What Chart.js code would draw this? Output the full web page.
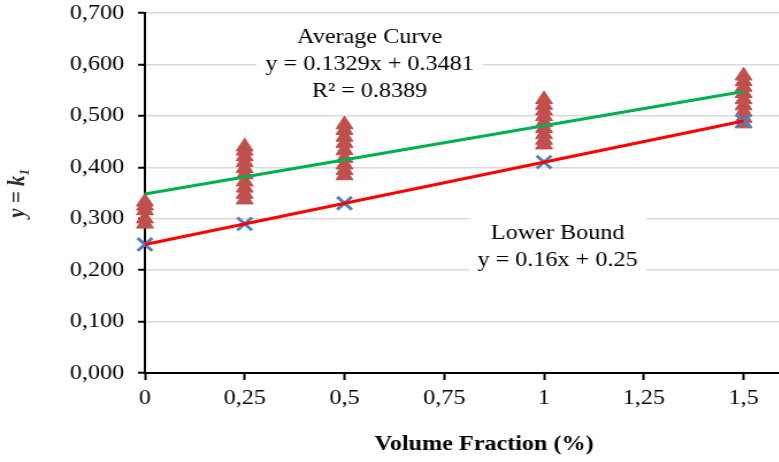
<!DOCTYPE html>
<html><head><meta charset="utf-8">
<script src="https://cdn.jsdelivr.net/npm/chart.js@4.4.1/dist/chart.umd.min.js"></script>
<style>
html,body{margin:0;padding:0;overflow:hidden;background:#fff;width:779px;height:462px;}
#c{display:block;transform:scaleX(1.15);transform-origin:0 0;}
</style></head><body>
<canvas id="c" width="728" height="462"></canvas>
<script>
// ---- data ----
const volumeFractions = [0, 0.25, 0.5, 1, 1.5];
const k1At0    = [0.333, 0.325, 0.316, 0.300, 0.290];
const k1At025  = [0.440, 0.432, 0.421, 0.410, 0.398, 0.386, 0.372, 0.360, 0.348, 0.337];
const k1At05   = [0.483, 0.472, 0.459, 0.447, 0.433, 0.418, 0.405, 0.394, 0.384];
const k1At1    = [0.532, 0.521, 0.510, 0.499, 0.487, 0.476, 0.464, 0.453, 0.444];
const k1At15   = [0.578, 0.567, 0.556, 0.544, 0.532, 0.520, 0.508, 0.496, 0.485];
const lowerBoundPoints = [0.25, 0.29, 0.33, 0.41, 0.49];
const trendX = [0, 1.5];
const averageCurveY = [0.3481, 0.5475];
const lowerBoundLineY = [0.25, 0.49];
const xTickValues = [0, 0.25, 0.5, 0.75, 1, 1.25, 1.5];
const yTickValues = [0, 0.1, 0.2, 0.3, 0.4, 0.5, 0.6, 0.7];
const averageLabel = ['Average Curve', 'y = 0.1329x + 0.3481', 'R\u00B2 = 0.8389'];
const lowerLabel = ['Lower Bound', 'y = 0.16x + 0.25'];
const xTitle = 'Volume Fraction (%)';
const yTitle = 'y = k\u2081';

const samples = [k1At0, k1At025, k1At05, k1At1, k1At15];
const trianglePts = [];
samples.forEach((arr, i) => arr.forEach(v => trianglePts.push({x: volumeFractions[i], y: v})));
const crossPts = volumeFractions.map((x, i) => ({x, y: lowerBoundPoints[i]}));
const avgPts = trendX.map((x, i) => ({x, y: averageCurveY[i]}));
const lowPts = trendX.map((x, i) => ({x, y: lowerBoundLineY[i]}));

const SERIF = '"Liberation Serif", "Times New Roman", serif';

const labelPlugin = {
  id: 'eqLabels',
  afterDraw(chart) {
    const {ctx, scales: {x, y}} = chart;
    const draw = (lines, cx, cy, boxW, boxH) => {
      const px = x.getPixelForValue(cx), py = y.getPixelForValue(cy);
      ctx.save();
      ctx.fillStyle = '#fff';
      ctx.fillRect(px - boxW / 2, py - boxH / 2, boxW, boxH);
      ctx.fillStyle = '#000';
      ctx.font = '21px ' + SERIF;
      ctx.textAlign = 'center';
      ctx.textBaseline = 'middle';
      const lh = 27;
      lines.forEach((t, i) => ctx.fillText(t, px, py + (i - (lines.length - 1) / 2) * lh));
      ctx.restore();
    };
    draw(averageLabel, 0.563, 0.599, 197, 82);
    draw(lowerLabel, 1.034, 0.246, 154, 57);
  }
};

new Chart(document.getElementById('c'), {
  type: 'scatter',
  data: {
    datasets: [
      {data: avgPts, showLine: true, borderColor: '#00B050', borderWidth: 3, pointRadius: 0, fill: false, clip: false},
      {data: lowPts, showLine: true, borderColor: '#FF0000', borderWidth: 3, pointRadius: 0, fill: false, clip: false},
      {data: crossPts, pointStyle: 'crossRot', pointRadius: 9, borderColor: '#4F81BD', backgroundColor: '#4F81BD', pointBorderWidth: 3, clip: false},
      {data: trianglePts, pointStyle: 'triangle', pointRadius: 8.5, borderColor: '#C0504D', backgroundColor: '#C0504D', pointBorderWidth: 1, clip: false}
    ]
  },
  options: {
    responsive: false,
    animation: false,
    devicePixelRatio: 1,
    layout: {padding: {left: 0, right: 0, top: 13, bottom: 0}},
    plugins: {legend: {display: false}, tooltip: {enabled: false}},
    scales: {
      x: {
        type: 'linear', min: 0, max: 1.7,
        afterBuildTicks: s => { s.ticks = xTickValues.map(v => ({value: v})); },
        afterFit: s => { s.height = 89; s.paddingLeft = 0; s.paddingRight = 0; },
        ticks: {
          color: '#000', padding: 6, maxRotation: 0, autoSkip: false,
          font: {family: SERIF, size: 21},
          callback: v => String(v).replace('.', ',')
        },
        grid: {drawOnChartArea: false, tickColor: '#000', tickLength: 7, tickWidth: 2},
        border: {color: '#000', width: 2},
        title: {display: true, text: xTitle, color: '#000', padding: {top: 0, bottom: 5},
          font: {family: SERIF, size: 21, weight: 'bold'}}
      },
      y: {
        type: 'linear', min: 0, max: 0.7,
        afterBuildTicks: s => { s.ticks = yTickValues.map(v => ({value: v})); },
        afterFit: s => { s.width = 126; s.paddingTop = 0; s.paddingBottom = 0; },
        ticks: {
          color: '#000', padding: 12,
          font: {family: SERIF, size: 21},
          callback: v => v.toFixed(3).replace('.', ',')
        },
        grid: {color: '#D9D9D9', lineWidth: 1.5, tickColor: '#000', tickLength: 6, tickWidth: 2},
        border: {color: '#000', width: 2},
        title: {display: true, text: yTitle, color: '#2b2b3b', padding: {top: 3, bottom: 0},
          font: {family: SERIF, size: 21, weight: 'bold', style: 'italic'}}
      }
    }
  },
  plugins: [labelPlugin]
});
</script>
</body></html>
